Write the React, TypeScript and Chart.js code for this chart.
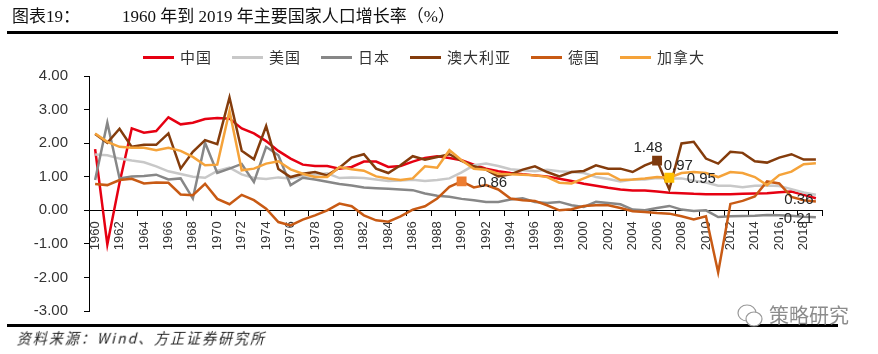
import React, { useEffect, useRef } from 'react';
import { Chart, registerables } from 'chart.js';

Chart.register(...registerables);

// ---------------- data ----------------
const years = [
  '1960', '1961', '1962', '1963', '1964', '1965', '1966', '1967', '1968', '1969',
  '1970', '1971', '1972', '1973', '1974', '1975', '1976', '1977', '1978', '1979',
  '1980', '1981', '1982', '1983', '1984', '1985', '1986', '1987', '1988', '1989',
  '1990', '1991', '1992', '1993', '1994', '1995', '1996', '1997', '1998', '1999',
  '2000', '2001', '2002', '2003', '2004', '2005', '2006', '2007', '2008', '2009',
  '2010', '2011', '2012', '2013', '2014', '2015', '2016', '2017', '2018', '2019',
];

const seriesNames = ['中国', '美国', '日本', '澳大利亚', '德国', '加拿大'];

const china = [
  1.82, -1.02, 0.82, 2.44, 2.31, 2.36, 2.77, 2.56, 2.61, 2.72,
  2.75, 2.73, 2.44, 2.29, 2.06, 1.77, 1.54, 1.36, 1.32, 1.32,
  1.24, 1.29, 1.45, 1.45, 1.29, 1.32, 1.45, 1.56, 1.61, 1.56,
  1.49, 1.36, 1.24, 1.16, 1.11, 1.07, 1.04, 1.01, 0.94, 0.87,
  0.79, 0.73, 0.67, 0.62, 0.59, 0.59, 0.56, 0.52, 0.51, 0.49,
  0.48, 0.48, 0.48, 0.49, 0.50, 0.51, 0.54, 0.56, 0.46, 0.36,
];

const usa = [
  1.66, 1.64, 1.54, 1.48, 1.43, 1.31, 1.16, 1.08, 1.00, 0.97,
  1.17, 1.27, 1.07, 0.96, 0.93, 0.98, 0.95, 1.02, 1.06, 1.10,
  0.96, 0.98, 0.96, 0.92, 0.87, 0.89, 0.91, 0.87, 0.90, 0.95,
  1.13, 1.34, 1.39, 1.32, 1.22, 1.19, 1.16, 1.21, 1.16, 1.14,
  1.11, 0.99, 0.93, 0.86, 0.92, 0.92, 0.96, 0.95, 0.95, 0.88,
  0.83, 0.73, 0.73, 0.69, 0.73, 0.74, 0.72, 0.63, 0.53, 0.46,
];

const japan = [
  0.90, 2.61, 0.95, 1.01, 1.02, 1.06, 0.92, 0.95, 0.35, 2.01,
  1.11, 1.24, 1.38, 0.84, 1.89, 1.64, 0.75, 0.97, 0.92, 0.85,
  0.78, 0.74, 0.68, 0.66, 0.64, 0.62, 0.60, 0.50, 0.43, 0.40,
  0.34, 0.30, 0.25, 0.25, 0.32, 0.36, 0.25, 0.22, 0.25, 0.15,
  0.10, 0.25, 0.22, 0.18, 0.02, 0.00, 0.07, 0.13, 0.02, -0.02,
  0.00, -0.20, -0.18, -0.17, -0.16, -0.14, -0.15, -0.16, -0.19, -0.21,
];

const australia = [
  2.27, 2.01, 2.43, 1.89, 1.95, 1.95, 2.29, 1.24, 1.74, 2.09,
  1.97, 3.36, 1.77, 1.52, 2.51, 1.23, 0.99, 1.09, 1.14, 1.04,
  1.27, 1.57, 1.67, 1.24, 1.11, 1.34, 1.61, 1.51, 1.59, 1.67,
  1.47, 1.31, 1.21, 1.01, 1.07, 1.21, 1.31, 1.14, 1.01, 1.14,
  1.17, 1.34, 1.24, 1.24, 1.14, 1.34, 1.48, 0.62, 1.99, 2.04,
  1.54, 1.39, 1.74, 1.71, 1.46, 1.42, 1.57, 1.67, 1.51, 1.51,
];

const germany = [
  0.78, 0.75, 0.90, 0.94, 0.80, 0.83, 0.82, 0.47, 0.45, 0.79,
  0.34, 0.18, 0.46, 0.30, 0.05, -0.35, -0.45, -0.28, -0.15, 0.00,
  0.20, 0.12, -0.15, -0.30, -0.34, -0.18, 0.02, 0.12, 0.35, 0.70,
  0.86, 0.68, 0.75, 0.62, 0.35, 0.30, 0.28, 0.15, 0.00, 0.03,
  0.13, 0.15, 0.15, 0.07, -0.03, -0.05, -0.08, -0.10, -0.18, -0.27,
  -0.18, -1.85, 0.19, 0.28, 0.41, 0.86, 0.80, 0.40, 0.30, 0.26,
];

const canada = [
  2.29, 2.04, 1.89, 1.86, 1.86, 1.79, 1.86, 1.77, 1.59, 1.34,
  1.36, 2.96, 1.19, 1.24, 1.39, 1.46, 1.22, 1.09, 0.99, 0.99,
  1.29, 1.22, 1.18, 1.01, 0.95, 0.90, 0.95, 1.31, 1.27, 1.79,
  1.49, 1.24, 1.21, 1.09, 1.07, 1.06, 1.04, 0.99, 0.82, 0.80,
  0.95, 1.09, 1.09, 0.90, 0.92, 0.95, 0.99, 0.97, 1.11, 1.14,
  1.11, 0.99, 1.14, 1.11, 0.99, 0.75, 1.05, 1.15, 1.37, 1.40,
];

const seriesValues = [china, usa, japan, australia, germany, canada];

const yMin = -3;
const yMax = 4;
const yStep = 1;

// points that carry a square marker
const markedSeries = ['澳大利亚', '加拿大', '德国'];
const markedYears = ['2006', '2007', '1990'];

// points that carry a value label
const labeledSeries = ['澳大利亚', '加拿大', '美国', '德国', '中国', '日本'];
const labeledYears = ['2006', '2007', '2007', '1990', '2019', '2019'];

// ---------------- styles ----------------
const lineColors = ['#E60012', '#C8C8C8', '#878787', '#843C0C', '#C85A14', '#F5A33A'];
const markerColors = ['#7E3A0E', '#FFC000', '#ED7D31'];
const labelOffsets = [
  [-9, -13],
  [9, -12],
  [32, 0],
  [31, 1],
  [-17, 2],
  [-20, 2],
];

const FONT = '"Liberation Sans", Arial, sans-serif';
const CJK = '"Noto Sans CJK SC", "Liberation Serif", serif';

const labelPlugin = {
  id: 'valueLabels',
  afterDatasetsDraw(chart: any) {
    const ctx = chart.ctx;
    ctx.save();
    ctx.font = `15px ${FONT}`;
    ctx.fillStyle = '#262626';
    ctx.textAlign = 'center';
    ctx.textBaseline = 'middle';
    labeledSeries.forEach((name, k) => {
      const di = seriesNames.indexOf(name);
      const idx = years.indexOf(labeledYears[k]);
      const pt = chart.getDatasetMeta(di).data[idx];
      const v = seriesValues[di][idx];
      if (!pt) return;
      ctx.fillText(v.toFixed(2), pt.x + labelOffsets[k][0], pt.y + labelOffsets[k][1]);
    });
    ctx.restore();
  },
};

function markerIndex(seriesName: string, idx: number): number {
  for (let m = 0; m < markedSeries.length; m++) {
    if (markedSeries[m] === seriesName && years.indexOf(markedYears[m]) === idx) return m;
  }
  return -1;
}

export default function App() {
  const ref = useRef<HTMLCanvasElement>(null);

  useEffect(() => {
    const canvas = ref.current;
    if (!canvas) return;
    const datasets = seriesNames.map((name, i) => ({
      label: name,
      data: seriesValues[i],
      borderColor: lineColors[i],
      backgroundColor: lineColors[i],
      borderWidth: 2.5,
      tension: 0,
      fill: false,
      order: seriesNames.length - i,
      pointStyle: 'rect',
      pointRadius: (c: any) => (markerIndex(name, c.dataIndex) >= 0 ? 7 : 0),
      pointHoverRadius: 0,
      pointBorderWidth: 0,
      pointBackgroundColor: (c: any) => {
        const m = markerIndex(name, c.dataIndex);
        return m >= 0 ? markerColors[m] : lineColors[i];
      },
      pointBorderColor: 'rgba(0,0,0,0)',
    }));

    const chart = new Chart(canvas, {
      type: 'line',
      data: { labels: years, datasets },
      options: {
        animation: false,
        responsive: false,
        devicePixelRatio: 1,
        events: [],
        layout: { padding: { left: 0, top: 76, right: 56, bottom: 43 } },
        plugins: {
          legend: { display: false },
          tooltip: { enabled: false },
        },
        scales: {
          x: {
            type: 'category',
            position: { y: 0 } as any,
            offset: true,
            border: { display: true, color: '#000', width: 1 },
            grid: {
              display: true,
              drawOnChartArea: false,
              drawTicks: true,
              tickLength: 5,
              offset: true,
              tickColor: (c: any) =>
                c.index === undefined || c.index % 2 === 0 ? '#000' : 'rgba(0,0,0,0)',
              color: 'rgba(0,0,0,0)',
            },
            ticks: {
              autoSkip: false,
              maxRotation: 90,
              minRotation: 90,
              padding: 6,
              color: '#333',
              font: { family: FONT, size: 13 },
              callback: (_v: any, idx: number) => (idx % 2 === 0 ? years[idx] : ''),
            },
          },
          y: {
            type: 'linear',
            position: 'left',
            min: yMin,
            max: yMax,
            afterFit: (s: any) => {
              s.width = 89;
            },
            border: { display: true, color: '#000', width: 1 },
            grid: {
              display: true,
              drawOnChartArea: false,
              drawTicks: true,
              tickLength: 5,
              color: '#000',
            },
            ticks: {
              stepSize: yStep,
              padding: 16,
              color: '#333',
              font: { family: FONT, size: 15 },
              callback: (v: any) => Number(v).toFixed(2),
            },
          },
        },
      },
      plugins: [labelPlugin],
    } as any);
    return () => chart.destroy();
  }, []);

  const legendItem = (name: string, i: number) => (
    <div key={name} style={{ display: 'flex', alignItems: 'center', marginRight: 20 }}>
      <div style={{ width: 31, height: 3, background: lineColors[i], marginRight: 6 }} />
      <span
        style={{
          fontFamily: CJK,
          fontSize: 15,
          color: '#333',
          lineHeight: '20px',
          letterSpacing: 1,
        }}
      >
        {name}
      </span>
    </div>
  );

  const titleStyle: React.CSSProperties = {
    position: 'absolute',
    top: 6,
    fontFamily: '"Liberation Serif", "Noto Sans CJK SC", serif',
    fontSize: 17,
    color: '#111',
    whiteSpace: 'nowrap',
    lineHeight: '22px',
  };

  return (
    <div
      style={{
        position: 'absolute',
        left: 0,
        top: 0,
        width: 878,
        height: 354,
        background: '#fff',
        overflow: 'hidden',
      }}
    >
      <canvas
        ref={ref}
        width={878}
        height={354}
        style={{ position: 'absolute', left: 0, top: 0, width: 878, height: 354 }}
      />
      <div style={{ ...titleStyle, left: 12 }}>图表19：</div>
      <div style={{ ...titleStyle, left: 122 }}>1960 年到 2019 年主要国家人口增长率（%）</div>
      <div style={{ position: 'absolute', left: 7, top: 31, width: 831, height: 3, background: '#000' }} />
      <div style={{ position: 'absolute', left: 143, top: 47, display: 'flex', alignItems: 'center' }}>
        {seriesNames.map(legendItem)}
      </div>
      <div style={{ position: 'absolute', left: 7, top: 324, width: 831, height: 3, background: '#000' }} />
      <div
        style={{
          position: 'absolute',
          left: 16,
          top: 329,
          fontFamily: '"Noto Sans CJK SC", sans-serif',
          fontSize: 14,
          letterSpacing: 2,
          color: '#222',
          whiteSpace: 'nowrap',
          lineHeight: '18px',
          transform: 'skewX(-14deg)',
          transformOrigin: 'left bottom',
        }}
      >
        资料来源：Wind、方正证券研究所
      </div>
      <svg
        width={30}
        height={28}
        style={{ position: 'absolute', left: 736, top: 302 }}
        viewBox="0 0 30 28"
      >
        <ellipse cx={11} cy={11} rx={9} ry={8} fill="none" stroke="#999" strokeWidth={1.2} />
        <ellipse cx={18} cy={17} rx={8} ry={7} fill="#fff" stroke="#999" strokeWidth={1.2} />
      </svg>
      <div
        style={{
          position: 'absolute',
          left: 769,
          top: 302,
          fontFamily: '"Noto Sans CJK SC", sans-serif',
          fontSize: 20,
          color: '#8c8c8c',
          whiteSpace: 'nowrap',
          lineHeight: '26px',
        }}
      >
        策略研究
      </div>
    </div>
  );
}
